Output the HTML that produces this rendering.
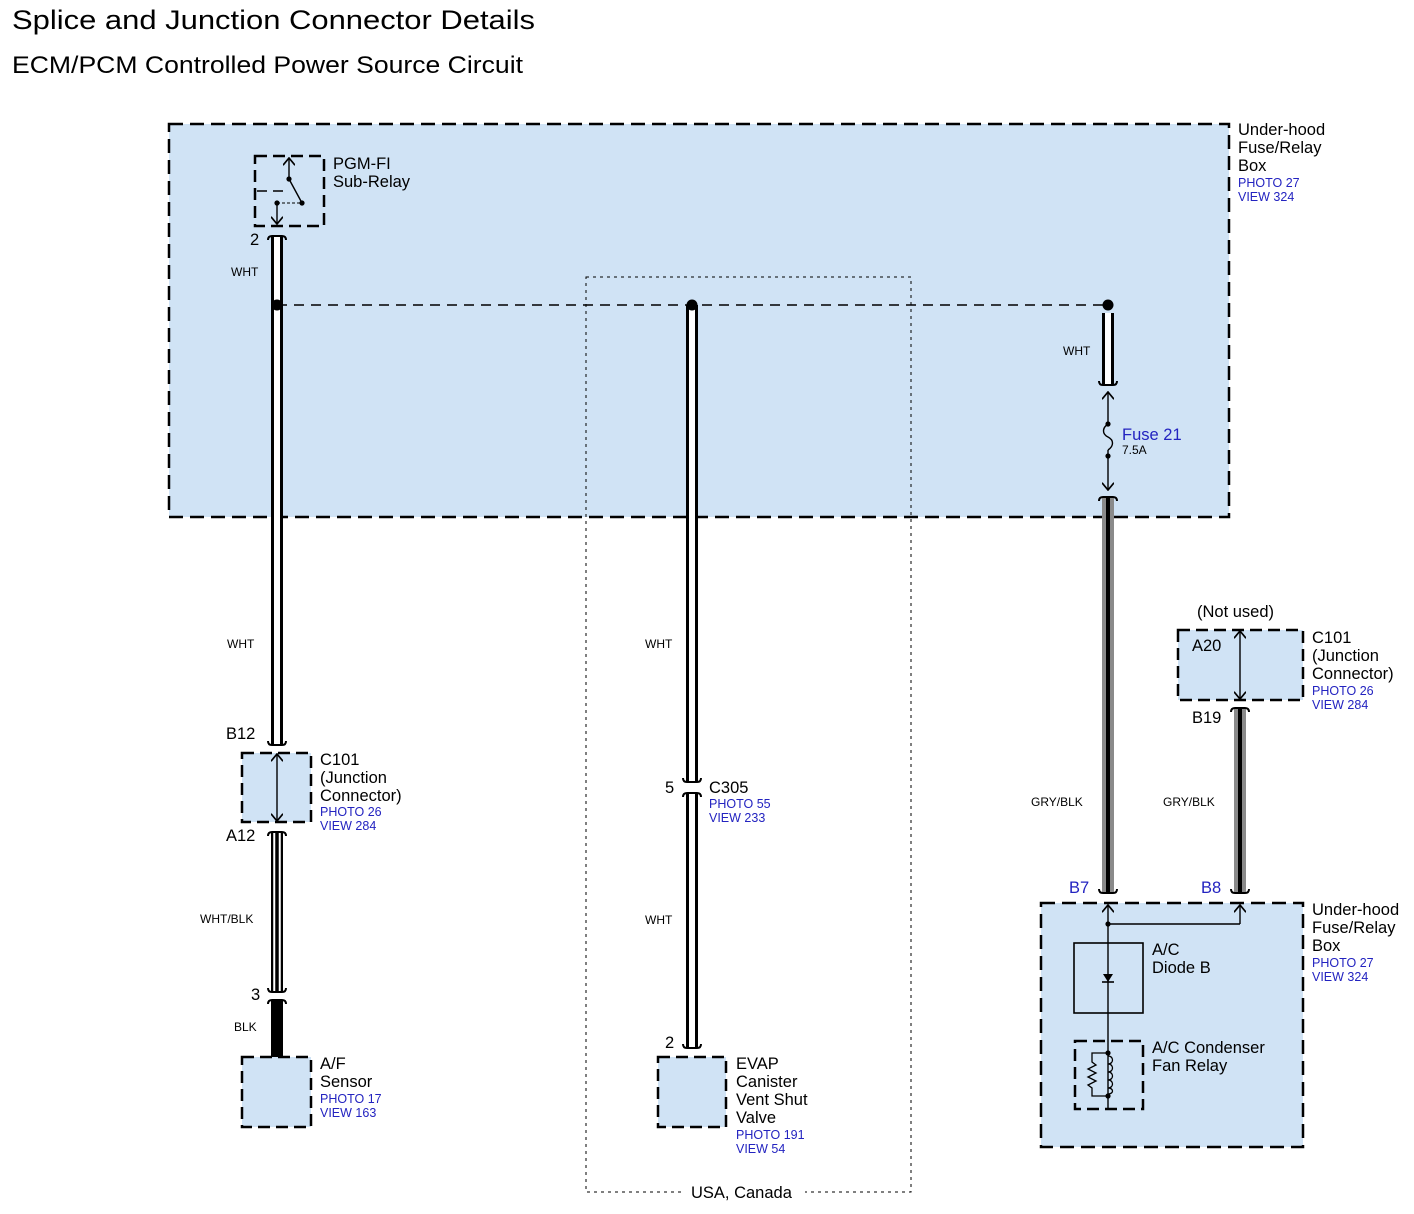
<!DOCTYPE html>
<html><head><meta charset="utf-8"><style>
html,body{margin:0;padding:0;background:#fff;}
svg{display:block;font-family:"Liberation Sans",Arial,sans-serif;}
.l{font-size:16.5px;fill:#000;}
.s{font-size:12px;fill:#000;}
.b{font-size:12.5px;fill:#2323c0;}
.bb{font-size:16.5px;fill:#2323c0;}
</style></head><body>
<svg width="1414" height="1214" viewBox="0 0 1414 1214" xmlns="http://www.w3.org/2000/svg">
<defs>
<marker id="ah" viewBox="0 0 10 10" refX="9" refY="5" markerWidth="12" markerHeight="12" orient="auto-start-reverse" markerUnits="userSpaceOnUse"><path d="M3,0 L9,5 L3,10" fill="none" stroke="#000" stroke-width="1.4"/></marker>
</defs>
<text x="12" y="29" font-size="27" textLength="523" lengthAdjust="spacingAndGlyphs">Splice and Junction Connector Details</text>
<text x="12" y="73" font-size="24" textLength="511" lengthAdjust="spacingAndGlyphs">ECM/PCM Controlled Power Source Circuit</text>

<rect x="169" y="124" width="1060" height="393" fill="#d0e3f5" stroke="#000" stroke-width="2.5" stroke-dasharray="14,7"/>
<rect x="586" y="277" width="325" height="915" fill="none" stroke="#000" stroke-width="1" stroke-dasharray="3,4"/>
<rect x="683" y="1183" width="122" height="18" fill="#fff"/>
<text x="691" y="1198" class="l">USA, Canada</text>

<rect x="255" y="156" width="69" height="70" fill="none" stroke="#000" stroke-width="2.5" stroke-dasharray="12,6"/>
<line x1="289" y1="158" x2="289" y2="179" stroke="#000" stroke-width="1.4" marker-start="url(#ah)"/>
<circle cx="289" cy="179" r="2.6"/>
<line x1="289" y1="179" x2="302" y2="203" stroke="#000" stroke-width="1.4"/>
<circle cx="302" cy="203" r="2.6"/>
<circle cx="277" cy="203" r="2.6"/>
<line x1="277" y1="203" x2="302" y2="203" stroke="#000" stroke-width="1" stroke-dasharray="3,2"/>
<line x1="257" y1="191" x2="283" y2="191" stroke="#000" stroke-width="1.4" stroke-dasharray="10,6"/>
<line x1="277" y1="203" x2="277" y2="224" stroke="#000" stroke-width="1.4" marker-end="url(#ah)"/>
<text x="333" y="169" class="l">PGM-FI</text>
<text x="333" y="187" class="l">Sub-Relay</text>
<text x="250" y="245" class="l">2</text>

<line x1="277" y1="305" x2="1108" y2="305" stroke="#000" stroke-width="1.6" stroke-dasharray="10,7"/>

<line x1="277" y1="236" x2="277" y2="745" stroke="#000" stroke-width="12"/>
<line x1="277" y1="236" x2="277" y2="745" stroke="#fff" stroke-width="6"/>
<path d="M268,240 Q268,236 272,236 L282,236 Q286,236 286,240" fill="none" stroke="#000" stroke-width="2"/>
<path d="M268,741 Q268,745 272,745 L282,745 Q286,745 286,741" fill="none" stroke="#000" stroke-width="2"/>
<circle cx="277" cy="305" r="5.5"/>
<text x="231" y="276" class="s">WHT</text>
<text x="227" y="648" class="s">WHT</text>
<text x="226" y="739" class="l">B12</text>

<rect x="242" y="753" width="69" height="69" fill="#d0e3f5" stroke="#000" stroke-width="2.5" stroke-dasharray="12,6"/>
<line x1="277" y1="754" x2="277" y2="821" stroke="#000" stroke-width="1.4" marker-start="url(#ah)" marker-end="url(#ah)"/>
<text x="320" y="765" class="l">C101</text>
<text x="320" y="783" class="l">(Junction</text>
<text x="320" y="801" class="l">Connector)</text>
<text x="320" y="816" class="b">PHOTO 26</text>
<text x="320" y="830" class="b">VIEW 284</text>
<text x="226" y="841" class="l">A12</text>

<line x1="277" y1="832" x2="277" y2="992" stroke="#000" stroke-width="12"/>
<line x1="277" y1="832" x2="277" y2="992" stroke="#fff" stroke-width="7.5"/>
<line x1="277" y1="832" x2="277" y2="992" stroke="#000" stroke-width="3.5"/>
<path d="M268,836 Q268,832 272,832 L282,832 Q286,832 286,836" fill="none" stroke="#000" stroke-width="2"/>
<path d="M268,988 Q268,992 272,992 L282,992 Q286,992 286,988" fill="none" stroke="#000" stroke-width="2"/>
<text x="200" y="923" class="s">WHT/BLK</text>
<text x="251" y="1000" class="l">3</text>
<line x1="277" y1="1000" x2="277" y2="1057" stroke="#000" stroke-width="12"/>
<path d="M268,1004 Q268,1000 272,1000 L282,1000 Q286,1000 286,1004" fill="none" stroke="#000" stroke-width="2"/>
<text x="234" y="1031" class="s">BLK</text>

<rect x="242" y="1057" width="69" height="70" fill="#d0e3f5" stroke="#000" stroke-width="2.5" stroke-dasharray="12,6"/>
<text x="320" y="1069" class="l">A/F</text>
<text x="320" y="1087" class="l">Sensor</text>
<text x="320" y="1103" class="b">PHOTO 17</text>
<text x="320" y="1117" class="b">VIEW 163</text>

<line x1="692" y1="305" x2="692" y2="782" stroke="#000" stroke-width="12"/>
<line x1="692" y1="305" x2="692" y2="782" stroke="#fff" stroke-width="6"/>
<path d="M683,778 Q683,782 687,782 L697,782 Q701,782 701,778" fill="none" stroke="#000" stroke-width="2"/>
<line x1="692" y1="793" x2="692" y2="1048" stroke="#000" stroke-width="12"/>
<line x1="692" y1="793" x2="692" y2="1048" stroke="#fff" stroke-width="6"/>
<path d="M683,797 Q683,793 687,793 L697,793 Q701,793 701,797" fill="none" stroke="#000" stroke-width="2"/>
<path d="M683,1044 Q683,1048 687,1048 L697,1048 Q701,1048 701,1044" fill="none" stroke="#000" stroke-width="2"/>
<circle cx="692" cy="305" r="5.5"/>
<text x="645" y="648" class="s">WHT</text>
<text x="645" y="924" class="s">WHT</text>
<text x="665" y="793" class="l">5</text>
<text x="709" y="793" class="l">C305</text>
<text x="709" y="808" class="b">PHOTO 55</text>
<text x="709" y="822" class="b">VIEW 233</text>
<text x="665" y="1048" class="l">2</text>
<rect x="658" y="1057" width="68" height="70" fill="#d0e3f5" stroke="#000" stroke-width="2.5" stroke-dasharray="12,6"/>
<text x="736" y="1069" class="l">EVAP</text>
<text x="736" y="1087" class="l">Canister</text>
<text x="736" y="1105" class="l">Vent Shut</text>
<text x="736" y="1123" class="l">Valve</text>
<text x="736" y="1139" class="b">PHOTO 191</text>
<text x="736" y="1153" class="b">VIEW 54</text>

<circle cx="1108" cy="305" r="5.5"/>
<line x1="1108" y1="313" x2="1108" y2="385" stroke="#000" stroke-width="12"/>
<line x1="1108" y1="313" x2="1108" y2="385" stroke="#fff" stroke-width="6"/>
<path d="M1099,381 Q1099,385 1103,385 L1113,385 Q1117,385 1117,381" fill="none" stroke="#000" stroke-width="2"/>
<text x="1063" y="355" class="s">WHT</text>
<line x1="1108" y1="392" x2="1108" y2="424" stroke="#000" stroke-width="1.4" marker-start="url(#ah)"/>
<circle cx="1108" cy="424" r="2.6"/>
<path d="M1108,424 C1102,428 1102,434 1108,437 C1114,440 1114,446 1108,450" fill="none" stroke="#000" stroke-width="1.4"/>
<circle cx="1108" cy="456" r="2.6"/>
<line x1="1108" y1="450" x2="1108" y2="490" stroke="#000" stroke-width="1.4" marker-end="url(#ah)"/>
<text x="1122" y="440" class="bb">Fuse 21</text>
<text x="1122" y="454" class="s">7.5A</text>
<line x1="1108" y1="497" x2="1108" y2="893" stroke="#8a8a8a" stroke-width="12"/>
<line x1="1108" y1="497" x2="1108" y2="893" stroke="#000" stroke-width="4"/>
<path d="M1099,501 Q1099,497 1103,497 L1113,497 Q1117,497 1117,501" fill="none" stroke="#000" stroke-width="2"/>
<path d="M1099,889 Q1099,893 1103,893 L1113,893 Q1117,893 1117,889" fill="none" stroke="#000" stroke-width="2"/>
<text x="1031" y="806" class="s">GRY/BLK</text>

<text x="1238" y="135" class="l">Under-hood</text>
<text x="1238" y="153" class="l">Fuse/Relay</text>
<text x="1238" y="171" class="l">Box</text>
<text x="1238" y="187" class="b">PHOTO 27</text>
<text x="1238" y="201" class="b">VIEW 324</text>

<text x="1197" y="617" class="l">(Not used)</text>
<rect x="1178" y="630" width="125" height="70" fill="#d0e3f5" stroke="#000" stroke-width="2.5" stroke-dasharray="12,6"/>
<line x1="1240" y1="631" x2="1240" y2="699" stroke="#000" stroke-width="1.4" marker-start="url(#ah)" marker-end="url(#ah)"/>
<text x="1192" y="651" class="l">A20</text>
<text x="1312" y="643" class="l">C101</text>
<text x="1312" y="661" class="l">(Junction</text>
<text x="1312" y="679" class="l">Connector)</text>
<text x="1312" y="695" class="b">PHOTO 26</text>
<text x="1312" y="709" class="b">VIEW 284</text>
<text x="1192" y="723" class="l">B19</text>
<line x1="1240" y1="708" x2="1240" y2="893" stroke="#8a8a8a" stroke-width="12"/>
<line x1="1240" y1="708" x2="1240" y2="893" stroke="#000" stroke-width="4"/>
<path d="M1231,712 Q1231,708 1235,708 L1245,708 Q1249,708 1249,712" fill="none" stroke="#000" stroke-width="2"/>
<path d="M1231,889 Q1231,893 1235,893 L1245,893 Q1249,893 1249,889" fill="none" stroke="#000" stroke-width="2"/>
<text x="1163" y="806" class="s">GRY/BLK</text>
<text x="1069" y="893" class="bb">B7</text>
<text x="1201" y="893" class="bb">B8</text>

<rect x="1041" y="903" width="262" height="244" fill="#d0e3f5" stroke="#000" stroke-width="2.5" stroke-dasharray="14,7"/>
<line x1="1108" y1="905" x2="1108" y2="1110" stroke="#000" stroke-width="1.4" marker-start="url(#ah)"/>
<circle cx="1108" cy="924" r="2.6"/>
<line x1="1108" y1="924" x2="1240" y2="924" stroke="#000" stroke-width="1.4"/>
<line x1="1240" y1="924" x2="1240" y2="905" stroke="#000" stroke-width="1.4" marker-end="url(#ah)"/>
<rect x="1074" y="943" width="69" height="70" fill="none" stroke="#000" stroke-width="1.6"/>
<path d="M1103,974 L1113,974 L1108,982 Z" fill="#000"/>
<line x1="1102" y1="982" x2="1114" y2="982" stroke="#000" stroke-width="1.6"/>
<text x="1152" y="955" class="l">A/C</text>
<text x="1152" y="973" class="l">Diode B</text>
<rect x="1075" y="1041" width="68" height="68" fill="none" stroke="#000" stroke-width="2.5" stroke-dasharray="12,6"/>
<circle cx="1108" cy="1053" r="2.6"/>
<circle cx="1108" cy="1096" r="2.6"/>
<path d="M1108,1053 L1092,1053 L1092,1062 L1096,1065 L1088,1069 L1096,1073 L1088,1077 L1096,1081 L1088,1085 L1092,1088 L1092,1096 L1108,1096" fill="none" stroke="#000" stroke-width="1.3"/>
<path d="M1108,1056 C1114,1056 1114,1064 1108,1064 C1114,1064 1114,1072 1108,1072 C1114,1072 1114,1080 1108,1080 C1114,1080 1114,1088 1108,1088 C1114,1088 1114,1094 1108,1094" fill="none" stroke="#000" stroke-width="1.3"/>
<text x="1152" y="1053" class="l">A/C Condenser</text>
<text x="1152" y="1071" class="l">Fan Relay</text>
<text x="1312" y="915" class="l">Under-hood</text>
<text x="1312" y="933" class="l">Fuse/Relay</text>
<text x="1312" y="951" class="l">Box</text>
<text x="1312" y="967" class="b">PHOTO 27</text>
<text x="1312" y="981" class="b">VIEW 324</text>
</svg>
</body></html>
